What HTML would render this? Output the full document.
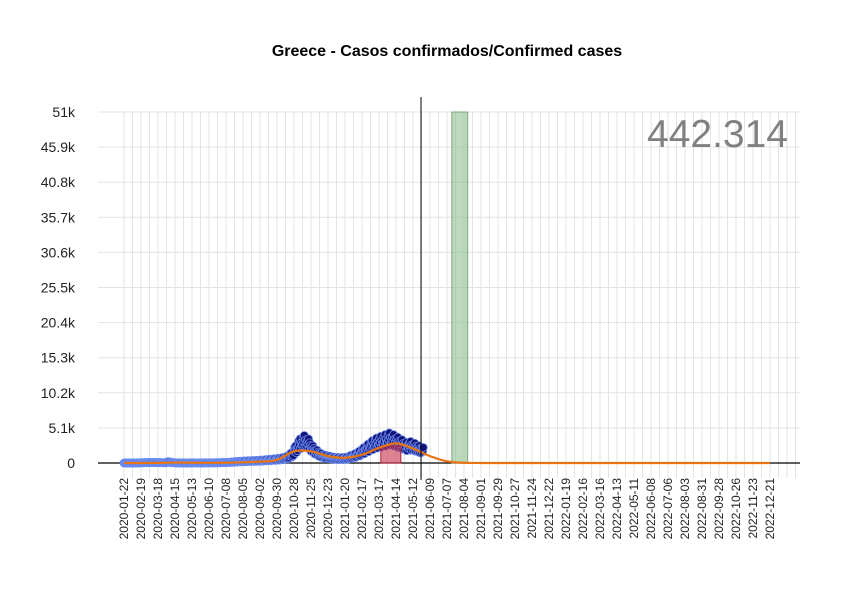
<!DOCTYPE html>
<html><head><meta charset="utf-8"><style>
body{margin:0;background:#fff;}
svg{display:block;font-family:"Liberation Sans",Arial,sans-serif;}
</style></head><body>
<svg id="chart" width="850" height="600" viewBox="0 0 850 600">
<rect width="850" height="600" fill="#fff"/>
<text x="447" y="56" text-anchor="middle" font-size="16" font-weight="bold">Greece - Casos confirmados/Confirmed cases</text>
<g id="grid"></g>
<g id="bands"></g>
<g id="points"></g>
<g id="hl"></g>
<g id="trend"></g>
<g id="axes"></g>
<text x="788" y="147" text-anchor="end" font-size="39" fill="#808080">442.314</text>
</svg>
<script>
const yTicks = [0,5100,10200,15300,20400,25500,30600,35700,40800,45900,51000];
const yTickLabels = ["0","5.1k","10.2k","15.3k","20.4k","25.5k","30.6k","35.7k","40.8k","45.9k","51k"];
const xTickLabels = ["2020-01-22","2020-02-19","2020-03-18","2020-04-15","2020-05-13","2020-06-10","2020-07-08","2020-08-05","2020-09-02","2020-09-30","2020-10-28","2020-11-25","2020-12-23","2021-01-20","2021-02-17","2021-03-17","2021-04-14","2021-05-12","2021-06-09","2021-07-07","2021-08-04","2021-09-01","2021-09-29","2021-10-27","2021-11-24","2021-12-22","2022-01-19","2022-02-16","2022-03-16","2022-04-13","2022-05-11","2022-06-08","2022-07-06","2022-08-03","2022-08-31","2022-09-28","2022-10-26","2022-11-23","2022-12-21"];
// weekly case values starting 2020-01-22
const weeklyCases = [0,0,5,20,40,60,70,60,50,40,150,50,20,15,10,10,15,20,20,25,30,30,40,60,80,120,180,220,250,280,300,320,350,400,450,500,550,650,800,1200,2000,2800,3200,2800,2000,1500,1100,900,800,700,650,650,700,900,1100,1400,1800,2200,2600,2900,3100,3300,3500,3300,3000,2700,2400,2500,2300,2000,1800];
// trend values every 28 days starting 2020-01-22
const trendValues = [0,0,20,60,40,30,40,100,200,450,1700,1700,1000,750,1200,2200,2850,2100,1000,250,40,5,0,0,0,0,0,0,0,0,0,0,0,0,0,0,0,0,0];
const highlightDays = [423,456]; const highlightValue = 2470;
const cutoffDay = 493;
const shadeDays = [540,566];
const X0=124, PXDAY=17/28, Y0=463, YMAX=112, VMAX=51000;
const xs=d=>X0+d*PXDAY, ys=v=>Y0-(v/VMAX)*(Y0-YMAX);
const NS="http://www.w3.org/2000/svg";
function mk(tag,attrs,parent){const e=document.createElementNS(NS,tag);for(const k in attrs)e.setAttribute(k,attrs[k]);parent.appendChild(e);return e;}
const grid=document.getElementById('grid'),axes=document.getElementById('axes'),bands=document.getElementById('bands'),pts=document.getElementById('points'),tr=document.getElementById('trend'),hl=document.getElementById('hl');
for(let i=0;i<=80;i++){const x=xs(i*14);if(x>800)break;const l=mk('line',{x1:x,x2:x,y1:YMAX,y2:478,stroke:'#e3e3e3','stroke-width':1},grid);

}
yTicks.forEach((v,i)=>{const y=ys(v);const l=mk('line',{x1:98,x2:800,y1:y,y2:y,stroke:'#e3e3e3','stroke-width':1},grid);


const t=mk('text',{x:75,y:y+5,'text-anchor':'end','font-size':14,fill:'#222'},axes);t.textContent=yTickLabels[i];

});
xTickLabels.forEach((s,i)=>{const x=xs(i*28);const t=mk('text',{transform:`translate(${x+4},478) rotate(-90)`,'text-anchor':'end','font-size':12,fill:'#222'},axes);t.textContent=s;

});
const zl=mk('line',{x1:98,x2:800,y1:Y0,y2:Y0,stroke:'#000','stroke-width':1.2},grid);


const sh=mk('rect',{x:xs(shadeDays[0]),y:YMAX,width:xs(shadeDays[1])-xs(shadeDays[0]),height:Y0-YMAX,fill:'#8fbf8f','fill-opacity':0.6,stroke:'#7aa87a'},bands);


const off=[0.85,1.15,0.95,1.25,0.75,1.05,0.9];
weeklyCases.forEach((v,w)=>{for(let d=0;d<7;d++){const day=w*7+d;if(day>cutoffDay)break;const c=mk('circle',{cx:xs(day),cy:ys(v*off[d]),r:4,fill:'#141478',stroke:'#6a8cf0','stroke-width':0.8},pts);

}});
const hr=mk('rect',{x:xs(highlightDays[0]),y:ys(highlightValue),width:xs(highlightDays[1])-xs(highlightDays[0]),height:Y0-ys(highlightValue),fill:'#c8304a','fill-opacity':0.6,stroke:'#b02040'},hl);


const P=trendValues.map((v,i)=>[xs(i*28),ys(v)]);
let p=`M${P[0][0]},${P[0][1]}`;
for(let i=0;i<P.length-1;i++){const p0=P[Math.max(0,i-1)],p1=P[i],p2=P[i+1],p3=P[Math.min(P.length-1,i+2)];
const c1=[p1[0]+(p2[0]-p0[0])/6,Math.min(Y0,p1[1]+(p2[1]-p0[1])/6)],c2=[p2[0]-(p3[0]-p1[0])/6,Math.min(Y0,p2[1]-(p3[1]-p1[1])/6)];
p+=` C${c1[0]},${c1[1]} ${c2[0]},${c2[1]} ${p2[0]},${p2[1]}`;}
const path=mk('path',{d:p,fill:'none',stroke:'#e87511','stroke-width':2.2},tr);


const vl=mk('line',{x1:421,x2:421,y1:97,y2:480,stroke:'#000','stroke-width':1},tr);


</script>
</body></html>
